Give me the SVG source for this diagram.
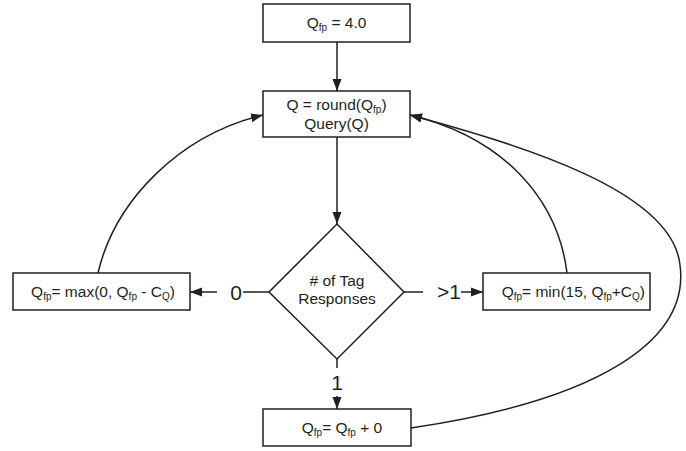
<svg xmlns="http://www.w3.org/2000/svg" width="686" height="451" viewBox="0 0 686 451">
<defs>
<marker id="ah" viewBox="0 0 12 10" refX="12" refY="5" markerWidth="12" markerHeight="10" markerUnits="userSpaceOnUse" orient="auto">
<path d="M0,0.5 L12,5 L0,9.5 Z" fill="#231f20"/>
</marker>
<style>
.box{fill:#fff;stroke:#231f20;stroke-width:1.5}
.t{font-family:"Liberation Sans",Arial,sans-serif;font-size:15.5px;fill:#231f20}
.s{font-size:10px}
.lab{font-family:"Liberation Sans",Arial,sans-serif;font-size:21px;fill:#231f20}
.c{fill:none;stroke:#231f20;stroke-width:1.5}
</style>
</defs>
<rect width="686" height="451" fill="#fff"/>
<g id="connectors">
<path class="c" d="M337,42 L337,91" marker-end="url(#ah)"/>
<path class="c" d="M337,137 L337,224" marker-end="url(#ah)"/>
<path class="c" d="M269,292 L243,292"/>
<path class="c" d="M217,292 L190,292" marker-end="url(#ah)"/>
<path class="c" d="M404,292 L423,292"/>
<path class="c" d="M461,292 L483,292" marker-end="url(#ah)"/>
<path class="c" d="M337,359 L337,368"/>
<path class="c" d="M337,396 L337,409" marker-end="url(#ah)"/>
<path class="c" d="M98,273 C115,200 180,135 263,115" marker-end="url(#ah)"/>
<path class="c" d="M567,273 C558,200 505,138 410,115" marker-end="url(#ah)"/>
<path class="c" d="M411,428 C600,400 690,340 680,265 C672,190 520,145 410,115" marker-end="url(#ah)"/>
<text class="lab" x="236" y="300" text-anchor="middle">0</text>
<text class="lab" x="449" y="299" text-anchor="middle">&gt;1</text>
<text class="lab" x="337" y="390" text-anchor="middle">1</text>
</g>
<g id="init">
<rect class="box" x="263" y="4" width="147" height="38"/>
<text class="t" x="336.5" y="28" text-anchor="middle">Q<tspan class="s" dy="3">fp</tspan><tspan dy="-3"> = 4.0</tspan></text>
</g>
<g id="query">
<rect class="box" x="263" y="91" width="147" height="46"/>
<text class="t" x="336.5" y="110" text-anchor="middle">Q = round(Q<tspan class="s" dy="3">fp</tspan><tspan dy="-3">)</tspan></text>
<text class="t" x="336.5" y="129" text-anchor="middle">Query(Q)</text>
</g>
<g id="decision">
<path class="box" d="M337,224 L404,292 L337,359 L269,292 Z"/>
<text class="t" x="337" y="286" text-anchor="middle"># of Tag</text>
<text class="t" x="337" y="304" text-anchor="middle">Responses</text>
</g>
<g id="dec">
<rect class="box" x="13" y="273" width="177" height="37"/>
<text class="t" x="103" y="297" text-anchor="middle">Q<tspan class="s" dy="3">fp</tspan><tspan dy="-3">= max(0, Q</tspan><tspan class="s" dy="3">fp</tspan><tspan dy="-3"> - C</tspan><tspan class="s" dy="3">Q</tspan><tspan dy="-3">)</tspan></text>
</g>
<g id="inc">
<rect class="box" x="483" y="273" width="167" height="37"/>
<text class="t" x="645" y="297" text-anchor="end">Q<tspan class="s" dy="3">fp</tspan><tspan dy="-3">= min(15, Q</tspan><tspan class="s" dy="3">fp</tspan><tspan dy="-3">+C</tspan><tspan class="s" dy="3">Q</tspan><tspan dy="-3">)</tspan></text>
</g>
<g id="same">
<rect class="box" x="263" y="409" width="148" height="37"/>
<text class="t" x="342" y="433" text-anchor="middle">Q<tspan class="s" dy="3">fp</tspan><tspan dy="-3">= Q</tspan><tspan class="s" dy="3">fp</tspan><tspan dy="-3"> + 0</tspan></text>
</g>
</svg>
